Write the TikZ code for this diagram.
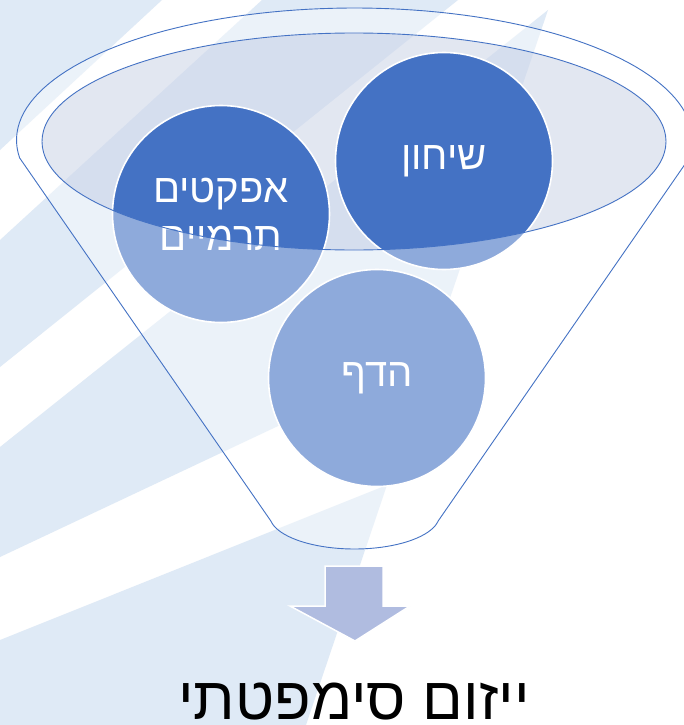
\documentclass[tikz,border=0pt]{standalone}
\usepackage{fontspec}
\newfontfamily\heb[Script=Hebrew]{Liberation Sans}
\TeXXeTstate=1
\definecolor{bgblue}{RGB}{223,234,246}
\definecolor{ellfill}{RGB}{207,215,233}
\definecolor{accent}{HTML}{4472C4}
\definecolor{arrowfill}{RGB}{176,188,224}
\tikzset{
  bubble/.style={circle, fill=accent, draw=white, line width=1.6pt, minimum size=217pt, inner sep=0pt,
    text=white, align=center, font=\heb\fontsize{40}{48}\selectfont},
  rim/.style={draw=accent, line width=0.9pt},
}
\begin{document}
\begin{tikzpicture}[x=1pt,y=-1pt]
\useasboundingbox (0,0) rectangle (684,725);
\clip (0,0) rectangle (684,725);
\fill[white] (0,0) rectangle (684,725);
% background stripes
\fill[bgblue] (0,0) -- (162,0) -- (0,150) -- cycle;
\fill[bgblue] (0,240) -- (262,0) -- (458,0) -- (0,367) -- cycle;
\fill[bgblue] (0,447) -- (548,10) -- (431,354) -- (0,557) -- cycle;
\fill[bgblue] (0,640) -- (387,485) -- (306,725) -- (0,725) -- cycle;
% funnel mouth fill
\fill[ellfill, fill opacity=0.6] (354,141.5) ellipse [x radius=312, y radius=108.5];
% circles
\node[bubble] (shihun) at (444,161) {\beginR שיחון\endR};
\node[bubble] (efektim) at (221,214) {\beginR אפקטים\endR\\\beginR תרמיים\endR};
\node[bubble] (hadef) at (377,378) {\beginR הדף\endR};
% funnel body overlay
\fill[white, fill opacity=0.4, even odd rule]
  plot[domain=187.8:-7.8, samples=90] ({354.5+338*cos(\x)},{140-132*sin(\x)})
  -- plot[domain=10:170, samples=40] ({354.5+85*cos(\x)},{515+34*sin(\x)}) -- cycle
  (354,141.5) ellipse [x radius=312, y radius=108.5];
% outlines
\draw[rim]
  plot[domain=187.8:-7.8, samples=90] ({354.5+338*cos(\x)},{140-132*sin(\x)})
  -- plot[domain=10:170, samples=40] ({354.5+85*cos(\x)},{515+34*sin(\x)}) -- cycle;
\draw[rim] (354,141.5) ellipse [x radius=312, y radius=108.5];
% down arrow
\draw[fill=arrowfill, draw=white, line width=1.5pt, line join=miter]
  (325,566) -- (383,566) -- (383,606) -- (410,606) -- (355,641) -- (290,606) -- (325,606) -- cycle;
% result text
\node[anchor=base, font=\heb\fontsize{60}{66}\selectfont, inner sep=0pt, text depth=0pt] (title) at (354,719) {\beginR ייזום סימפטתי\endR};
\end{tikzpicture}
\end{document}
